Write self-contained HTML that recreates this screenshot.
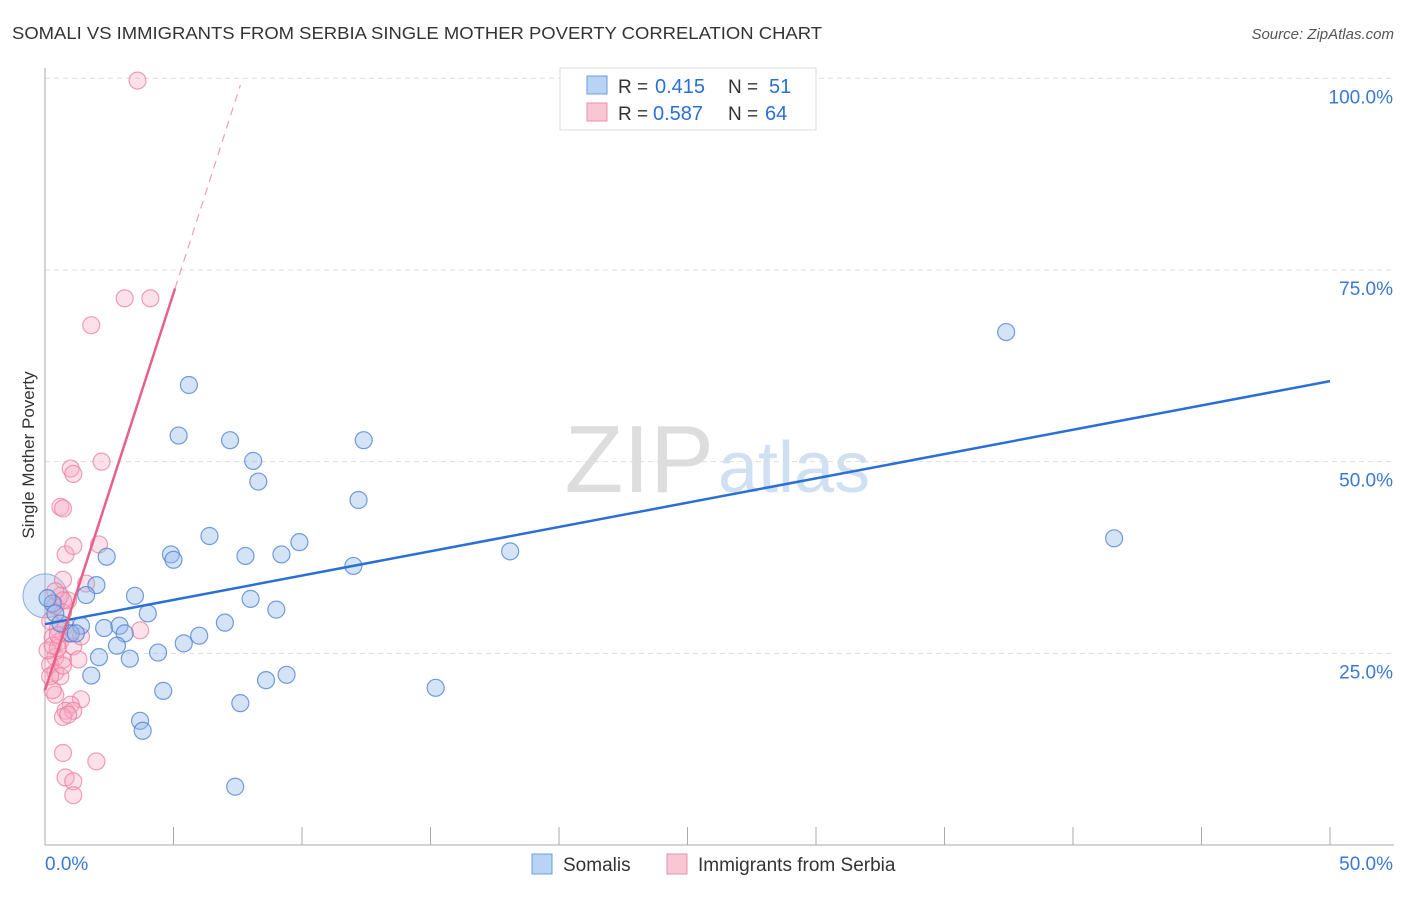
<!DOCTYPE html>
<html><head><meta charset="utf-8">
<style>
body{margin:0;background:#fff;font-family:"Liberation Sans",sans-serif;}
svg text{font-family:"Liberation Sans",sans-serif;}
</style></head>
<body>
<svg width="1406" height="892" xmlns="http://www.w3.org/2000/svg" id="svg">
<text x="12" y="39" font-size="17.5" fill="#333" textLength="810" lengthAdjust="spacingAndGlyphs">SOMALI VS IMMIGRANTS FROM SERBIA SINGLE MOTHER POVERTY CORRELATION CHART</text>
<text x="1394" y="39" font-size="15" fill="#555" text-anchor="end" font-style="italic">Source: ZipAtlas.com</text>
<text x="714" y="492" font-size="96" fill="#ddd" text-anchor="end" font-family="Liberation Serif">ZIP</text>
<text x="718" y="492" font-size="72" fill="#cfe0f3">atlas</text>
<g id="grid"></g>
<g id="axes"></g>
<g id="marks"></g>
<text transform="translate(34,455) rotate(-90)" font-size="17" fill="#333" text-anchor="middle">Single Mother Poverty</text>
<g>
<rect x="560" y="68" width="256" height="62" fill="#fff" stroke="#ddd"/>
<rect x="587" y="76" width="20" height="18" fill="#b9d3f5" stroke="#6b9ee0"/>
<rect x="587" y="103" width="20" height="18" fill="#f9c6d4" stroke="#ec8fab"/>
<text x="618" y="93" font-size="19" fill="#333">R =</text>
<text x="655" y="93" font-size="20" fill="#2a6fd6">0.415</text>
<text x="728" y="93" font-size="19" fill="#333">N =</text>
<text x="769" y="93" font-size="20" fill="#2a6fd6">51</text>
<text x="618" y="120" font-size="19" fill="#333">R =</text>
<text x="653" y="120" font-size="20" fill="#2a6fd6">0.587</text>
<text x="728" y="120" font-size="19" fill="#333">N =</text>
<text x="765" y="120" font-size="20" fill="#2a6fd6">64</text>
</g>
<g>
<rect x="532" y="854" width="20" height="20" fill="#b9d3f5" stroke="#6b9ee0"/>
<text x="563" y="871" font-size="19" fill="#333">Somalis</text>
<rect x="667" y="854" width="20" height="20" fill="#f9c6d4" stroke="#ec8fab"/>
<text x="698" y="871" font-size="19" fill="#333">Immigrants from Serbia</text>
</g>
</svg>
<script>
const xTicks=[0,5,10,15,20,25,30,35,40,45,50];
const yTicks=[25,50,75,100];
const yTickLabels=["25.0%","50.0%","75.0%","100.0%"];
const somaliX=[5.6,5.2,7.2,12.4,8.1,8.3,12.2,6.4,9.9,18.1,2.4,4.9,5.0,7.8,9.2,12.0,2.0,1.6,3.5,8.0,4.0,9.0,1.4,2.3,2.9,3.1,1.0,1.2,7.0,6.0,5.4,2.8,4.4,2.1,3.3,1.8,9.4,8.6,4.6,15.2,7.6,3.7,3.8,7.4,37.4,41.6,0.3,0.4,0.6,0.1,0.0];
const somaliY=[60.0,53.4,52.8,52.8,50.1,47.4,45.0,40.3,39.5,38.3,37.6,37.9,37.2,37.7,37.9,36.4,33.9,32.6,32.5,32.1,30.2,30.7,28.6,28.3,28.6,27.6,27.6,27.6,29.0,27.3,26.3,26.0,25.1,24.5,24.3,22.1,22.2,21.5,20.1,20.5,18.5,16.2,14.9,7.6,66.9,40.0,31.5,30.2,28.9,32.2,32.0];
const serbiaX=[3.6,3.1,4.1,1.8,2.2,1.0,1.1,0.6,0.7,2.1,0.8,1.1,0.7,1.6,0.9,0.7,0.4,0.2,0.5,0.3,0.6,1.1,1.4,3.7,1.3,0.4,0.2,0.4,0.6,0.7,0.4,1.4,1.0,0.8,1.1,0.7,0.9,0.7,2.0,0.8,1.1,1.1,0.1,0.3,0.6,0.4,0.8,0.5,0.2,0.7,0.9,0.7,0.3,0.5];
const serbiaY=[99.7,71.3,71.3,67.8,50.0,49.1,48.4,44.1,43.9,39.2,37.9,39.0,34.6,34.1,31.9,30.3,31.2,29.2,28.2,27.1,26.6,25.9,27.2,28.0,24.2,24.5,23.5,22.5,22.0,24.2,19.6,19.0,18.3,17.5,17.5,16.7,17.0,12.0,10.9,8.8,8.3,6.5,25.4,20.2,32.5,33.1,28.6,25.7,22.0,23.4,27.6,31.9,26.0,27.4];
const blueLine=[[0,28.8],[50,60.5]];
const pinkLine=[[0,20.2],[5.06,72.6]];
const pinkDash=[[5.06,72.6],[7.6,99.1]];
const X=v=>45+v/50*1285, Y=v=>845-v/100*766.7;
const NS="http://www.w3.org/2000/svg";
function mk(t,a,p){const e=document.createElementNS(NS,t);for(const k in a)e.setAttribute(k,a[k]);p.appendChild(e);return e;}
const grid=document.getElementById('grid'),axes=document.getElementById('axes'),marks=document.getElementById('marks');
yTicks.forEach((t,i)=>{
 const l=mk('line',{x1:45,x2:1394,y1:Y(t),y2:Y(t),stroke:'#ddd','stroke-dasharray':'5,4'},grid);
 
 
 const tx=mk('text',{x:1393,y:Y(t)+25,'font-size':19,fill:'#3a78d4','text-anchor':'end'},axes);
 tx.textContent=yTickLabels[i];
 
 
});
const yax=mk('line',{x1:45,x2:45,y1:68,y2:845,stroke:'#aaa'},axes);


const xax=mk('line',{x1:45,x2:1394,y1:845,y2:845,stroke:'#aaa'},axes);


xTicks.forEach(t=>{
 const l=mk('line',{x1:X(t),x2:X(t),y1:827,y2:845,stroke:'#aaa'},axes);
 
 
});
[[0,'0.0%','start',45],[50,'50.0%','end',1393]].forEach(d=>{
 const tx=mk('text',{x:d[3],y:870,'font-size':19,fill:'#3a78d4','text-anchor':d[2]},axes);
 tx.textContent=d[1];
 
 
});
const bb=mk('circle',{cx:X(0),cy:Y(32.5),r:22,fill:'rgba(150,185,235,0.35)',stroke:'rgba(80,130,210,0.6)'},marks);


serbiaX.forEach((v,i)=>{
 const c=mk('circle',{cx:X(v),cy:Y(serbiaY[i]),r:8.5,fill:'rgba(246,170,195,0.35)',stroke:'rgba(236,120,155,0.7)','stroke-width':1.2},marks);
 
 
});
somaliX.slice(0,50).forEach((v,i)=>{
 const c=mk('circle',{cx:X(v),cy:Y(somaliY[i]),r:8.5,fill:'rgba(150,185,235,0.4)',stroke:'rgba(70,125,210,0.75)','stroke-width':1.2},marks);
 
 
});
const bl=mk('line',{x1:X(blueLine[0][0]),y1:Y(blueLine[0][1]),x2:X(blueLine[1][0]),y2:Y(blueLine[1][1]),stroke:'#2a6fd6','stroke-width':2.5},marks);


const pl=mk('line',{x1:X(pinkLine[0][0]),y1:Y(pinkLine[0][1]),x2:X(pinkLine[1][0]),y2:Y(pinkLine[1][1]),stroke:'#e8608a','stroke-width':2.5},marks);


const pd=mk('line',{x1:X(pinkDash[0][0]),y1:Y(pinkDash[0][1]),x2:X(pinkDash[1][0]),y2:Y(pinkDash[1][1]),stroke:'#eea0b8','stroke-width':1.2,'stroke-dasharray':'8,6'},marks);


</script>
</body></html>
